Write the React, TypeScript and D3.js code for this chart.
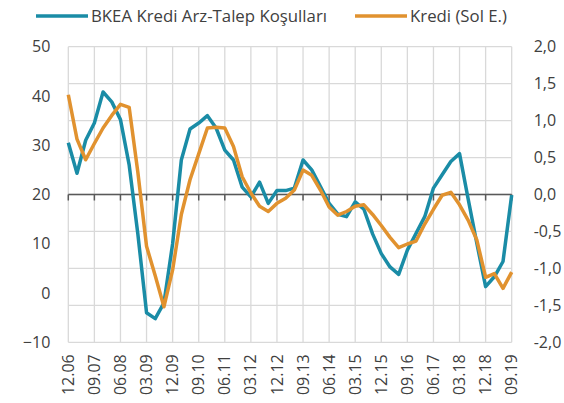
import { useEffect, useRef } from "react";
import * as d3 from "d3";

// quarterly, 12.06 .. 09.19
const tickLabels = [
  "12.06", "09.07", "06.08", "03.09", "12.09", "09.10", "06.11", "03.12", "12.12",
  "09.13", "06.14", "03.15", "12.15", "09.16", "06.17", "03.18", "12.18", "09.19",
];

// BKEA Kredi Arz-Talep Koşulları (left axis)
const bkea = [
  30.5, 24.3, 31, 34.5, 40.8, 38.8, 35.2, 26, 12, -4, -5.2, -2, 10, 27, 33.3, 34.5,
  36, 33.5, 29, 27, 21.5, 19.5, 22.5, 18.2, 20.8, 20.8, 21.3, 27, 25, 21.6, 18.2, 16,
  15.5, 18.5, 17, 12, 8, 5.3, 3.8, 8.7, 12.1, 15.5, 21.3, 24, 26.7, 28.3, 19, 10,
  1.3, 3.3, 6.4, 19.9,
];

// Kredi (right axis)
const kredi = [
  1.35, 0.75, 0.47, 0.69, 0.9, 1.07, 1.22, 1.18, 0.3, -0.7, -1.1, -1.52, -1.02, -0.27,
  0.2, 0.55, 0.9, 0.91, 0.9, 0.65, 0.24, 0.02, -0.16, -0.23, -0.12, -0.05, 0.06, 0.33,
  0.26, 0.06, -0.17, -0.28, -0.23, -0.16, -0.14, -0.27, -0.42, -0.58, -0.72, -0.67,
  -0.63, -0.4, -0.2, -0.01, 0.03, -0.14, -0.35, -0.62, -1.12, -1.07, -1.27, -1.05,
];

const leftTicks = [-10, 0, 10, 20, 30, 40, 50];
const rightTicks = [-2, -1.5, -1, -0.5, 0, 0.5, 1, 1.5, 2];

const W = 564;
const H = 403;
const m = { top: 46.7, right: 52.3, bottom: 60.7, left: 68.3 };
const TEAL = "#1a8ca6";
const ORANGE = "#e1922f";
const FONT = "'Open Sans', sans-serif";

export default function App() {
  const svgRef = useRef<SVGSVGElement>(null);

  useEffect(() => {
    const svg = d3.select(svgRef.current);
    svg.selectAll("*").remove();

    const x = d3.scaleLinear().domain([0, bkea.length - 1]).range([m.left, W - m.right]);
    const yL = d3.scaleLinear().domain([-10, 50]).range([H - m.bottom, m.top]);
    const yR = d3.scaleLinear().domain([-2, 2]).range([H - m.bottom, m.top]);
    const tickIdx = tickLabels.map((_, i) => i * 3);

    // grid
    const grid = svg.append("g").attr("stroke", "#d9d9d9").attr("stroke-width", 1.3);
    grid
      .selectAll(".h")
      .data(rightTicks)
      .join("line")
      .attr("x1", m.left)
      .attr("x2", W - m.right)
      .attr("y1", (d) => yR(d))
      .attr("y2", (d) => yR(d));
    grid
      .selectAll(".v")
      .data(tickIdx)
      .join("line")
      .attr("x1", (d) => x(d))
      .attr("x2", (d) => x(d))
      .attr("y1", m.top)
      .attr("y2", H - m.bottom);

    // zero axis with ticks
    const zy = yR(0);
    const ax = svg.append("g").attr("stroke", "#595959").attr("stroke-width", 1.5);
    ax.append("line").attr("x1", m.left).attr("x2", W - m.right).attr("y1", zy).attr("y2", zy);
    ax.selectAll(".t")
      .data(tickIdx)
      .join("line")
      .attr("x1", (d) => x(d))
      .attr("x2", (d) => x(d))
      .attr("y1", zy)
      .attr("y2", zy + 6);

    // left axis labels
    const leftAxis = d3.axisLeft(yL).tickValues(leftTicks).tickSize(0).tickPadding(18);
    const gl = svg.append("g").attr("transform", `translate(${m.left},0)`).call(leftAxis);
    gl.select(".domain").remove();
    gl.selectAll("text").attr("font-family", FONT).attr("font-size", 16).attr("fill", "#404040");

    // right axis labels
    const rightAxis = d3
      .axisRight(yR)
      .tickValues(rightTicks)
      .tickSize(0)
      .tickPadding(22)
      .tickFormat((d) => d3.format(".1f")(d as number).replace(".", ",").replace("−", "-"));
    const gr = svg.append("g").attr("transform", `translate(${W - m.right},0)`).call(rightAxis);
    gr.select(".domain").remove();
    gr.selectAll("text").attr("font-family", FONT).attr("font-size", 16).attr("fill", "#404040");

    // bottom labels, rotated
    svg
      .append("g")
      .selectAll("text")
      .data(tickLabels)
      .join("text")
      .attr("transform", (_, i) => `translate(${x(tickIdx[i])},${H - m.bottom + 12}) rotate(-90)`)
      .attr("text-anchor", "end")
      .attr("dy", "0.35em")
      .attr("font-family", FONT)
      .attr("font-size", 16)
      .attr("fill", "#404040")
      .text((d) => d);

    // series
    const lineL = d3
      .line<number>()
      .x((_, i) => x(i))
      .y((d) => yL(d));
    const lineR = d3
      .line<number>()
      .x((_, i) => x(i))
      .y((d) => yR(d));
    svg
      .append("path")
      .attr("d", lineL(bkea))
      .attr("fill", "none")
      .attr("stroke", TEAL)
      .attr("stroke-width", 3.5)
      .attr("stroke-linejoin", "round");
    svg
      .append("path")
      .attr("d", lineR(kredi))
      .attr("fill", "none")
      .attr("stroke", ORANGE)
      .attr("stroke-width", 3.5)
      .attr("stroke-linejoin", "round");

    // legend
    const legend = [
      { label: "BKEA Kredi Arz-Talep Koşulları", color: TEAL, x0: 36 },
      { label: "Kredi (Sol E.)", color: ORANGE, x0: 355 },
    ];
    const lg = svg.append("g");
    legend.forEach((l) => {
      lg.append("line")
        .attr("x1", l.x0)
        .attr("x2", l.x0 + 52)
        .attr("y1", 16)
        .attr("y2", 16)
        .attr("stroke", l.color)
        .attr("stroke-width", 3.5);
      lg.append("text")
        .attr("x", l.x0 + 55)
        .attr("y", 16)
        .attr("dy", "0.35em")
        .attr("font-family", FONT)
        .attr("font-size", 16.8)
        .attr("fill", "#404040")
        .text(l.label);
    });
  }, []);

  return (
    <svg
      ref={svgRef}
      width={W}
      height={H}
      style={{ position: "absolute", left: 0, top: 0, background: "#fff" }}
    />
  );
}
